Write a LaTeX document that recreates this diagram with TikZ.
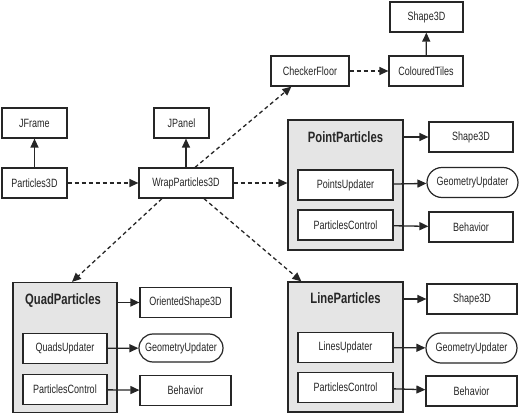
\documentclass[tikz,border=0pt]{standalone}
\usepackage{fontspec}
\setmainfont{Liberation Sans}[FakeStretch=0.75]
\usetikzlibrary{arrows.meta,shapes.misc}
\begin{document}
\begin{tikzpicture}[x=1pt, y=-1pt, every node/.style={font=\fontsize{12}{14}\selectfont,text=black!85},
  box/.style={draw=black!85,line width=1.2pt,fill=white,minimum width=#1,minimum height=30pt,inner sep=0pt},
  pill/.style={draw=black!85,line width=1.2pt,fill=white,rounded rectangle,minimum width=91pt,minimum height=30pt,inner sep=0pt},
  grp/.style={draw=black!85,line width=1.2pt,fill=black!10,minimum width=#1,minimum height=130pt,inner sep=0pt},
  ttl/.style={font=\fontsize{15}{17}\selectfont\bfseries},
  uses/.style={-{Triangle[length=9pt,width=8pt]},line width=1.3pt,black!85},
  dep/.style={uses,dash pattern=on 4pt off 3pt}]
  \useasboundingbox (0,0) rectangle (523,415);
  % top left
  \node[box=65pt] (frame) at (34.5,123) {JFrame};
  \node[box=65pt] (p3d) at (34.5,183) {Particles3D};
  \node[box=55pt] (panel) at (181.5,123) {JPanel};
  \node[box=94pt] (wrap) at (186,183) {WrapParticles3D};
  % floor
  \node[box=78pt] (floor) at (310,71) {CheckerFloor};
  \node[box=74pt] (tiles) at (426,71) {ColouredTiles};
  \node[box=73pt] (tshape) at (426.5,17) {Shape3D};
  % point particles
  \node[grp=115pt] (pgrp) at (345.5,185) {};
  \node[ttl] (ptitle) at (345.5,137) {PointParticles};
  \node[box=95pt] (pupd) at (345.5,185) {PointsUpdater};
  \node[box=95pt] (pctl) at (345.5,225) {ParticlesControl};
  \node[box=84pt] (pshape) at (471,137) {Shape3D};
  \node[pill] (pgeo) at (472.5,182.5) {GeometryUpdater};
  \node[box=84pt] (pbeh) at (471,227) {Behavior};
  % quad particles
  \node[grp=104pt] (qgrp) at (65,347.5) {};
  \node[ttl] (qtitle) at (63,301) {QuadParticles};
  \node[box=84pt] (qupd) at (65,348.5) {QuadsUpdater};
  \node[box=84pt] (qctl) at (65,389.5) {ParticlesControl};
  \node[box=91pt] (qshape) at (185.5,302.5) {OrientedShape3D};
  \node[pill,minimum width=84pt,minimum height=28pt] (qgeo) at (181,348) {GeometryUpdater};
  \node[box=91pt] (qbeh) at (185.5,390.5) {Behavior};
  % line particles
  \node[grp=115pt] (lgrp) at (345.5,347) {};
  \node[ttl] (ltitle) at (345.5,298) {LineParticles};
  \node[box=95pt] (lupd) at (345.5,347.5) {LinesUpdater};
  \node[box=95pt] (lctl) at (345.5,387.5) {ParticlesControl};
  \node[box=90pt] (lshape) at (472,299) {Shape3D};
  \node[pill] (lgeo) at (471.5,348) {GeometryUpdater};
  \node[box=91pt] (lbeh) at (471.5,391) {Behavior};
  % solid arrows
  \draw[uses] (p3d) -- (frame);
  \draw[uses] (wrap.north) -- (wrap.north |- panel.south);
  \draw[uses] (tiles) -- (tshape);
  \draw[uses] (pgrp.east |- pshape) -- (pshape);
  \draw[uses] (pupd) -- (pgeo);
  \draw[uses] (pctl) -- (pbeh);
  \draw[uses] (qgrp.east |- qshape) -- (qshape);
  \draw[uses] (qupd) -- (qgeo);
  \draw[uses] (qctl) -- (qbeh);
  \draw[uses] (lgrp.east |- lshape) -- (lshape);
  \draw[uses] (lupd) -- (lgeo);
  \draw[uses] (lctl) -- (lbeh);
  % dashed arrows
  \draw[dep] (p3d) -- (wrap);
  \draw[dep] (wrap) -- (wrap -| pgrp.west);
  \draw[dep] (wrap.60) -- (floor.-140);
  \draw[dep] (floor) -- (tiles);
  \draw[dep] (wrap.-147) -- ([xshift=7pt]qgrp.north);
  \draw[dep] (wrap.-41) -- ([xshift=14pt]lgrp.north west);
\end{tikzpicture}
\end{document}
